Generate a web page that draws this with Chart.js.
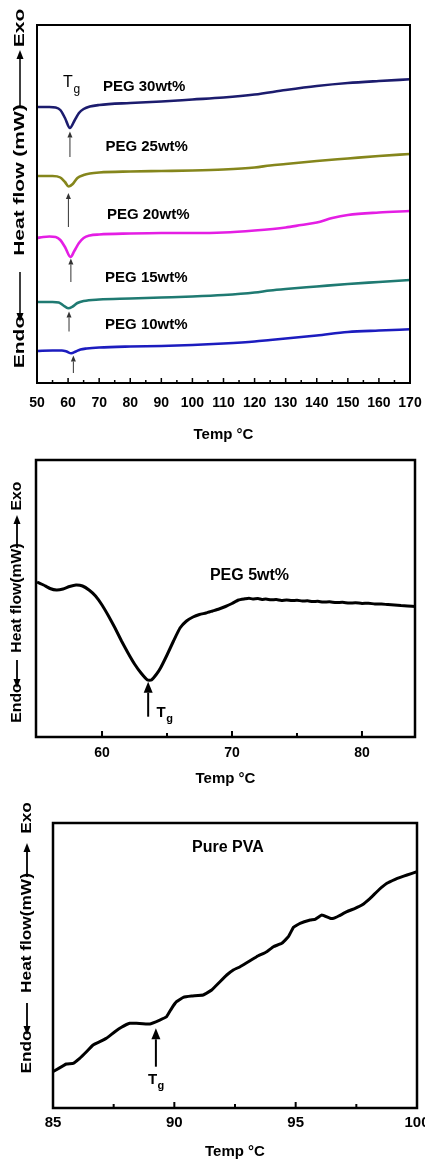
<!DOCTYPE html>
<html><head><meta charset="utf-8">
<script src="https://cdn.jsdelivr.net/npm/chart.js@4.4.1/dist/chart.umd.min.js"></script>
<style>
html,body{margin:0;padding:0;background:#fff;overflow:hidden;width:425px;height:1160px;position:relative;}
canvas{position:absolute;left:0;}
</style></head><body>
<canvas id="c1" width="425" height="450" style="top:0px;width:425px;height:450px"></canvas>
<canvas id="c2" width="425" height="347" style="top:445px;width:425px;height:347px"></canvas>
<canvas id="c3" width="440" height="374" style="top:790px;width:440px;height:374px"></canvas>
<script>
// ---------- Panel 1 data (Heat flow, arbitrary units, vs Temp °C) ----------
const ticksP1 = [50,60,70,80,90,100,110,120,130,140,150,160,170];
const minorP1 = [55,65,75,85,95,105,115,125,135,145,155,165];

const tempPEG30 = [50,54,56,57.5,59,60.6,62,63.5,65,67,70,80,90,100,110,120,130,140,150,160,170];
const flowPEG30 = [27.6,27.6,27.55,27.3,26.5,25.5,26.2,27.0,27.4,27.65,27.8,28.0,28.15,28.35,28.55,28.85,29.3,29.7,30.0,30.2,30.37];

const tempPEG25 = [50,55,57.5,59,60.2,61.5,63,65,67,70,80,90,100,110,120,125,130,140,150,160,170];
const flowPEG25 = [20.7,20.7,20.55,20.1,19.65,19.9,20.5,20.8,20.95,21.05,21.15,21.2,21.25,21.35,21.55,21.75,21.9,22.2,22.45,22.7,22.9];

const tempPEG20 = [50,52,54,56,57.5,59,60.8,62,63.5,65,67,70,80,90,100,110,120,130,135,140,145,150,160,170];
const flowPEG20 = [14.5,14.6,14.65,14.6,14.3,13.6,12.6,13.2,14.0,14.5,14.75,14.85,14.95,15.0,15.0,15.05,15.25,15.55,15.8,16.05,16.5,16.8,17.05,17.2];

const tempPEG15 = [50,55,57,58.5,60,61.5,63,65,70,80,90,100,110,120,125,130,140,150,160,170];
const flowPEG15 = [8.1,8.1,8.05,7.75,7.47,7.65,8.0,8.2,8.35,8.45,8.55,8.65,8.8,9.05,9.25,9.4,9.65,9.9,10.1,10.3];

const tempPEG10 = [50,55,58,59.5,61,62.5,64,66,70,80,90,100,110,120,125,130,140,150,160,170];
const flowPEG10 = [3.2,3.25,3.25,3.15,2.97,3.15,3.35,3.45,3.55,3.65,3.7,3.8,3.95,4.15,4.3,4.45,4.75,5.1,5.25,5.37];

// ---------- Panel 2 data ----------
const ticksP2 = [60,70,80];
const minorP2 = [65,75];
const tempPEG5 = [55,55.5,56,56.5,57,57.5,58,58.5,59,59.5,60,60.5,61,61.5,62,62.5,63,63.5,63.8,64.2,64.5,65,65.5,66,66.5,67,67.5,68,68.5,69,69.5,70,70.5,71,71.3,71.6,72,72.3,72.6,73,73.4,73.8,74.2,74.6,75,75.4,75.8,76.2,76.6,77,77.5,78,78.5,79,79.5,80,80.5,81,81.5,82,82.5,83,83.5,84.2];
const flowPEG5 = [15.5,15.2,14.85,14.7,14.8,15.05,15.2,15.1,14.7,14.1,13.2,12.1,10.9,9.6,8.4,7.3,6.4,5.7,5.7,6.3,6.9,8.2,9.6,10.9,11.6,12.0,12.25,12.4,12.6,12.8,13.05,13.35,13.7,13.82,13.88,13.8,13.85,13.76,13.8,13.72,13.74,13.66,13.7,13.64,13.68,13.6,13.62,13.55,13.57,13.5,13.52,13.45,13.47,13.4,13.42,13.36,13.38,13.3,13.3,13.24,13.2,13.14,13.1,13.05];

// ---------- Panel 3 data ----------
const ticksP3 = [85,90,95,100];
const minorP3 = [87.5,92.5,97.5];
const tempPVA = [85,85.55,85.83,86.1,86.38,86.65,86.93,87.2,87.55,87.82,88.16,88.44,88.99,89.4,89.68,89.89,90.09,90.37,90.71,91.19,91.54,91.88,92.16,92.43,92.71,93.05,93.39,93.81,94.08,94.43,94.7,94.91,95.18,95.6,95.8,96.08,96.42,96.56,96.77,97.11,97.45,97.73,98.07,98.42,98.76,99.1,99.31,99.59,100];
const flowPVA = [3.63,4.4,4.47,4.97,5.63,6.3,6.63,6.97,7.63,8.07,8.47,8.47,8.4,8.8,9.13,9.97,10.63,11.07,11.2,11.3,11.8,12.63,13.3,13.8,14.13,14.63,15.13,15.63,16.13,16.47,17.13,18.07,18.47,18.8,18.87,19.3,18.97,18.97,19.2,19.63,19.97,20.3,20.97,21.8,22.47,22.87,23.07,23.3,23.63];

// ---------- helpers ----------
const zip = (xs, ys) => xs.map((x, i) => ({x, y: ys[i]}));
const SANS = "'Liberation Sans', Arial, sans-serif";

function drawArrow(ctx, x1, y1, x2, y2, lw, hw, hl, color) {
  const dx = x2 - x1, dy = y2 - y1, L = Math.hypot(dx, dy);
  const ux = dx / L, uy = dy / L, nx = -uy, ny = ux;
  const bx = x2 - ux * hl, by = y2 - uy * hl;
  ctx.strokeStyle = color; ctx.fillStyle = color; ctx.lineWidth = lw;
  ctx.beginPath(); ctx.moveTo(x1, y1); ctx.lineTo(bx, by); ctx.stroke();
  ctx.beginPath(); ctx.moveTo(x2, y2); ctx.lineTo(bx + nx * hw, by + ny * hw); ctx.lineTo(bx - nx * hw, by - ny * hw); ctx.closePath(); ctx.fill();
}

const decor = {
  id: 'decor',
  afterDatasetsDraw(chart, args, o) {
    const {ctx, chartArea: a, scales: {x, y}} = chart;
    ctx.save();
    ctx.strokeStyle = '#000'; ctx.lineWidth = o.tickWidth;
    ctx.beginPath();
    x.ticks.forEach(t => { const px = x.getPixelForValue(t.value); ctx.moveTo(px, a.bottom); ctx.lineTo(px, a.bottom - o.majorLen); });
    o.minor.forEach(v => { const px = x.getPixelForValue(v); ctx.moveTo(px, a.bottom); ctx.lineTo(px, a.bottom - o.minorLen); });
    ctx.stroke();
    ctx.lineWidth = o.boxWidth;
    ctx.strokeRect(a.left, a.top, a.right - a.left, a.bottom - a.top);
    ctx.fillStyle = '#000'; ctx.textAlign = 'left'; ctx.textBaseline = 'middle';
    o.labels.forEach(l => { ctx.font = l.font; ctx.fillText(l.text, x.getPixelForValue(l.x), y.getPixelForValue(l.y)); });
    o.arrows.forEach(ar => {
      const px = x.getPixelForValue(ar.x);
      drawArrow(ctx, px, y.getPixelForValue(ar.y1), px, y.getPixelForValue(ar.y2), ar.lw, ar.hw, ar.hl, ar.color);
    });
    o.tg.forEach(t => {
      const px = x.getPixelForValue(t.x), py = y.getPixelForValue(t.y);
      ctx.fillStyle = '#000'; ctx.textAlign = 'left'; ctx.textBaseline = 'middle';
      ctx.font = t.weight + ' ' + t.size + 'px ' + t.family;
      ctx.fillText('T', px, py);
      const w = ctx.measureText('T').width;
      ctx.font = t.weight + ' ' + Math.round(t.size * 0.72) + 'px ' + t.family;
      ctx.fillText('g', px + w + 0.5, py + t.size * 0.42);
    });
    const yt = o.yTitle;
    yt.parts.forEach(p => {
      ctx.save(); ctx.translate(yt.x, p.y); ctx.rotate(-Math.PI / 2); ctx.scale(yt.stretch, 1);
      ctx.font = yt.font; ctx.fillStyle = '#000'; ctx.textAlign = 'center'; ctx.textBaseline = 'middle';
      ctx.fillText(p.text, 0, 0); ctx.restore();
    });
    yt.arrows.forEach(ar => drawArrow(ctx, yt.x, ar.y1, yt.x, ar.y2, yt.lw, yt.hw, yt.hl, '#000'));
    ctx.restore();
  }
};

function makeChart(id, datasets, c) {
  return new Chart(document.getElementById(id), {
    type: 'line',
    data: { datasets },
    options: {
      responsive: false, animation: false, devicePixelRatio: 1,
      layout: { padding: c.padding },
      elements: { point: { radius: 0 } },
      plugins: { legend: { display: false }, tooltip: { enabled: false }, decor: c.decor },
      scales: {
        x: {
          type: 'linear', min: c.xmin, max: c.xmax,
          afterBuildTicks: s => { s.ticks = c.ticks.map(v => ({value: v})); },
          afterFit: s => { s.paddingLeft = 0; s.paddingRight = 0; },
          grid: { display: false, drawTicks: false }, border: { display: false },
          ticks: { font: c.tickFont, color: '#000', padding: c.tickPad, maxRotation: 0, autoSkip: false },
          title: { display: true, text: 'Temp °C', font: c.titleFont, color: '#000', padding: c.titlePad }
        },
        y: { display: false, min: 0, max: c.ymax }
      }
    },
    plugins: [decor]
  });
}

function line(data, color, width, tension) {
  return { data, borderColor: color, borderWidth: width, fill: false, pointRadius: 0,
           cubicInterpolationMode: tension === 'mono' ? 'monotone' : 'default', tension: tension === 'mono' ? 0 : tension };
}

// ---------- Panel 1 ----------
makeChart('c1', [
  line(zip(tempPEG30, flowPEG30), '#1c1c6e', 2.6, 'mono'),
  line(zip(tempPEG25, flowPEG25), '#85861c', 2.6, 'mono'),
  line(zip(tempPEG20, flowPEG20), '#e41ee4', 2.6, 'mono'),
  line(zip(tempPEG15, flowPEG15), '#1f7a72', 2.6, 'mono'),
  line(zip(tempPEG10, flowPEG10), '#1c1cbf', 2.6, 'mono')
], {
  padding: { left: 37, right: 15, top: 25, bottom: 2.2 },
  xmin: 50, xmax: 170, ymax: 35.8, ticks: ticksP1,
  tickFont: { family: SANS, size: 14, weight: 'bold' }, tickPad: 12,
  titleFont: { family: SANS, size: 15, weight: 'bold' }, titlePad: { top: 2, bottom: 4 },
  decor: {
    tickWidth: 1.5, majorLen: 5, minorLen: 3, boxWidth: 2, minor: minorP1,
    labels: [
      { text: 'PEG 30wt%', x: 71.2, y: 29.65, font: 'bold 15px ' + SANS },
      { text: 'PEG 25wt%', x: 72.0, y: 23.6, font: 'bold 15px ' + SANS },
      { text: 'PEG 20wt%', x: 72.5, y: 16.8, font: 'bold 15px ' + SANS },
      { text: 'PEG 15wt%', x: 71.9, y: 10.5, font: 'bold 15px ' + SANS },
      { text: 'PEG 10wt%', x: 71.9, y: 5.8, font: 'bold 15px ' + SANS }
    ],
    arrows: [
      { x: 60.6, y1: 22.6, y2: 25.15, lw: 1, hw: 2.5, hl: 6, color: '#333' },
      { x: 60.1, y1: 15.6, y2: 19.0, lw: 1, hw: 2.5, hl: 6, color: '#333' },
      { x: 60.9, y1: 10.1, y2: 12.45, lw: 1, hw: 2.5, hl: 6, color: '#333' },
      { x: 60.3, y1: 5.15, y2: 7.15, lw: 1, hw: 2.5, hl: 6, color: '#333' },
      { x: 61.7, y1: 1.0, y2: 2.75, lw: 1, hw: 2.5, hl: 6, color: '#333' }
    ],
    tg: [ { x: 58.4, y: 30.0, size: 16, weight: 'normal', family: SANS } ],
    yTitle: {
      x: 20, stretch: 1.4, font: 'bold 15px ' + SANS, lw: 1.5, hw: 3.5, hl: 9,
      parts: [ { text: 'Exo', y: 28 }, { text: 'Heat flow (mW)', y: 180 }, { text: 'Endo', y: 342 } ],
      arrows: [ { y1: 106, y2: 50 }, { y1: 272, y2: 322 } ]
    }
  }
});

// ---------- Panel 2 ----------
makeChart('c2', [ line(zip(tempPEG5, flowPEG5), '#000', 3, 0.15) ], {
  padding: { left: 36, right: 10, top: 15, bottom: 1.2 },
  xmin: 54.92, xmax: 84.08, ymax: 27.7, ticks: ticksP2,
  tickFont: { family: SANS, size: 14, weight: 'bold' }, tickPad: 8,
  titleFont: { family: SANS, size: 15, weight: 'bold' }, titlePad: { top: 0, bottom: 3 },
  decor: {
    tickWidth: 2, majorLen: 6, minorLen: 4, boxWidth: 2.5, minor: minorP2,
    labels: [ { text: 'PEG 5wt%', x: 68.3, y: 16.1, font: 'bold 16px ' + SANS } ],
    arrows: [ { x: 63.55, y1: 2.03, y2: 5.53, lw: 2, hw: 4.5, hl: 11, color: '#000' } ],
    tg: [ { x: 64.2, y: 2.4, size: 15, weight: 'bold', family: SANS } ],
    yTitle: {
      x: 17, stretch: 1.05, font: 'bold 15px ' + SANS, lw: 1.8, hw: 3.5, hl: 9,
      parts: [ { text: 'Exo', y: 51 }, { text: 'Heat flow(mW)', y: 153 }, { text: 'Endo', y: 258 } ],
      arrows: [ { y1: 103, y2: 70 }, { y1: 215, y2: 243 } ]
    }
  }
});

// ---------- Panel 3 ----------
makeChart('c3', [ line(zip(tempPVA, flowPVA), '#000', 3, 0.1) ], {
  padding: { left: 53, right: 23, top: 33, bottom: 1 },
  xmin: 85, xmax: 100, ymax: 28.5, ticks: ticksP3,
  tickFont: { family: SANS, size: 15, weight: 'bold' }, tickPad: 6,
  titleFont: { family: SANS, size: 15, weight: 'bold' }, titlePad: { top: 5, bottom: 2 },
  decor: {
    tickWidth: 2, majorLen: 6, minorLen: 4, boxWidth: 2.5, minor: minorP3,
    labels: [ { text: 'Pure PVA', x: 90.73, y: 26.0, font: 'bold 16px ' + SANS } ],
    arrows: [ { x: 89.24, y1: 4.13, y2: 7.97, lw: 2, hw: 4.5, hl: 11, color: '#000' } ],
    tg: [ { x: 88.91, y: 2.8, size: 15, weight: 'bold', family: SANS } ],
    yTitle: {
      x: 27, stretch: 1.15, font: 'bold 15px ' + SANS, lw: 1.8, hw: 3.5, hl: 9,
      parts: [ { text: 'Exo', y: 28 }, { text: 'Heat flow(mW)', y: 143 }, { text: 'Endo', y: 262 } ],
      arrows: [ { y1: 87, y2: 53 }, { y1: 213, y2: 245 } ]
    }
  }
});
</script>
</body></html>
